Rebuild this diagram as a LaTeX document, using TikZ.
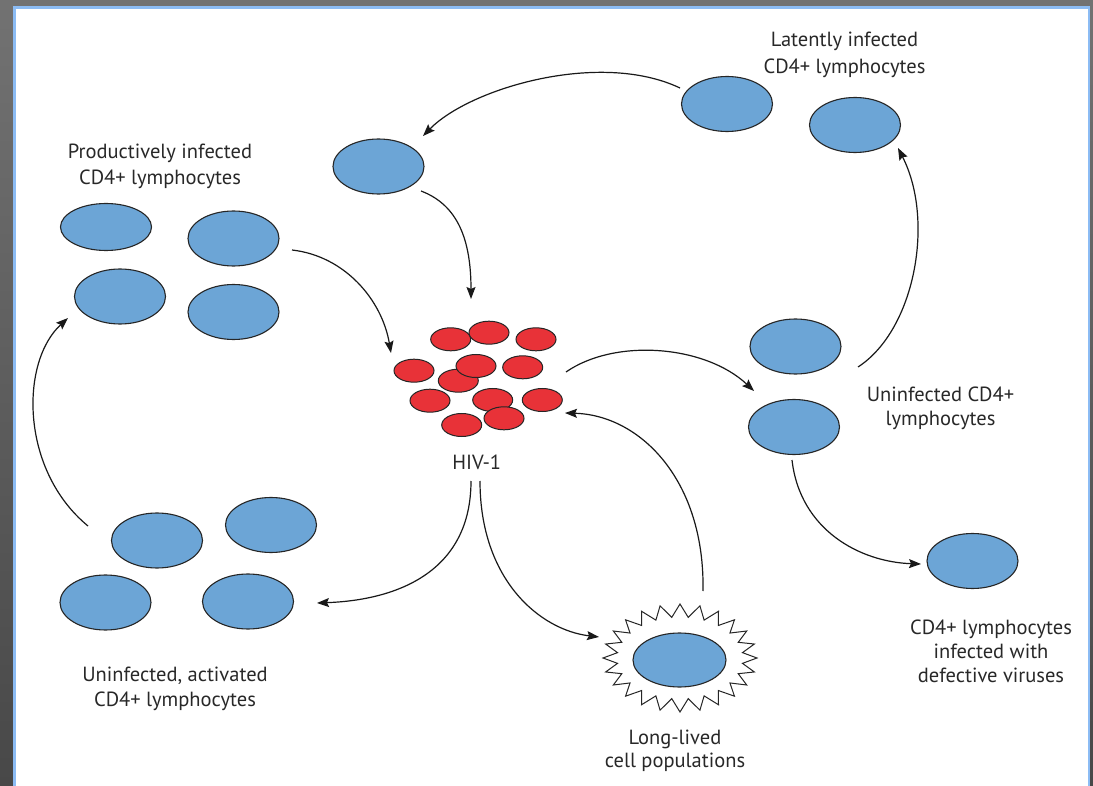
\documentclass[tikz,border=0pt]{standalone}
\usepackage{fontspec}
\setmainfont{PT Sans}
\usetikzlibrary{arrows.meta,shapes.geometric}
\definecolor{cellblue}{RGB}{108,165,214}
\definecolor{virred}{RGB}{232,50,56}
\definecolor{framebl}{RGB}{140,188,244}
\definecolor{txt}{RGB}{40,40,40}
\definecolor{bgtop}{RGB}{114,114,114}
\definecolor{bgbot}{RGB}{72,72,72}
\begin{document}
\begin{tikzpicture}[x=1pt,y=-1pt,
  cell/.style={ellipse,draw=black!85,line width=1.1pt,fill=cellblue,inner sep=0pt,minimum width=91pt,minimum height=55pt},
  virus/.style={ellipse,draw=black!85,line width=1pt,fill=virred,inner sep=0pt,minimum width=40pt,minimum height=23pt},
  flow/.style={line width=1.2pt,draw=black!90,-{Stealth[length=12pt,width=9pt,inset=2pt]}},
  lab/.style={align=center,text=txt,inner sep=0pt,font=\fontsize{20.5}{24}\selectfont}]
\useasboundingbox (0,0) rectangle (1093,786);
% background
\shade[top color=bgtop,bottom color=bgbot] (0,0) rectangle (1093,786);
\filldraw[fill=white,draw=framebl,line width=2.5pt] (14.5,7.5) rectangle (1089,800);

% latently infected
\node[cell] (e13) at (727,104) {};
\node[cell] (e14) at (855,125) {};
\node[lab,font=\fontsize{20.5}{27.5}\selectfont] (tlat) at (844.5,55) {Latently infected\\CD4+ lymphocytes};
\node[cell] (e12) at (378.5,166.5) {};

% productively infected
\node[cell,minimum height=47pt] (e1) at (106,227) {};
\node[cell] (e2) at (233.5,238.5) {};
\node[cell] (e3) at (120,296.5) {};
\node[cell] (e4) at (233.5,312) {};
\node[lab,font=\fontsize{20.5}{26}\selectfont] (tprod) at (160,166) {Productively infected\\CD4+ lymphocytes};

% uninfected CD4+
\node[cell] (e9) at (795.5,346.5) {};
\node[cell] (e10) at (794,427) {};
\node[lab] (tunin) at (940.5,408.5) {Uninfected CD4+\\lymphocytes};

% defective
\node[cell] (e11) at (972.5,561) {};
\node[lab] (tdef) at (991,651.5) {CD4+ lymphocytes\\infected with\\defective viruses};

% uninfected activated
\node[cell] (e5) at (157,540.5) {};
\node[cell] (e6) at (271,525) {};
\node[cell] (e7) at (105.5,602.5) {};
\node[cell] (e8) at (248,601.5) {};
\node[lab,font=\fontsize{20.5}{25}\selectfont] (tact) at (175,689) {Uninfected, activated\\CD4+ lymphocytes};

% HIV-1 cluster
\node[virus] (v1) at (450.7,339.3) {};
\node[virus] (v2) at (489,332.7) {};
\node[virus] (v3) at (536,339.3) {};
\node[virus] (v4) at (414,370.7) {};
\node[virus] (v5) at (458.3,380.7) {};
\node[virus] (v6) at (476,366) {};
\node[virus] (v7) at (522.7,367.3) {};
\node[virus] (v8) at (430,400.7) {};
\node[virus] (v9) at (492.7,400) {};
\node[virus] (v11) at (542.3,400) {};
\node[virus] (v10) at (504,418.3) {};
\node[virus] (v12) at (461.7,425) {};
\node[lab] (thiv) at (476.7,462) {HIV-1};

% long-lived
\coordinate (sc) at (680,658);
\draw[line width=1pt,draw=black!85,fill=white,shift={(sc)}]
  plot[samples at={0,...,47},variable=\k] ({\k*7.5}:{77-14*mod(\k,2)} and {54-13*mod(\k,2)}) -- cycle;
\node[cell,minimum width=93pt,minimum height=54pt] (e15) at (679.5,660) {};
\node[lab,font=\fontsize{20.5}{23}\selectfont] (tlong) at (675,751) {Long-lived\\cell populations};

% connector endpoints
\coordinate (a1s) at (680,88);   \coordinate (a1e) at (423,136);
\coordinate (a2s) at (421,191);  \coordinate (a2e) at (471,299);
\coordinate (a3s) at (292,250);  \coordinate (a3e) at (391,353);
\coordinate (a4s) at (566,372);  \coordinate (a4e) at (754,391);
\coordinate (a5s) at (858,367);  \coordinate (a5e) at (898,148);
\coordinate (a6s) at (792,460);  \coordinate (a6e) at (921,564);
\coordinate (a7s) at (703,591);  \coordinate (a7e) at (565,413);
\coordinate (a8s) at (471,481);  \coordinate (a8e) at (317,603);
\coordinate (a9s) at (480,481);  \coordinate (a9e) at (599,637);
\coordinate (a10s) at (88,526);  \coordinate (a10e) at (68,318);

\draw[flow] (a1s) .. controls (600,50) and (470,88) .. (a1e);
\draw[flow] (a2s) .. controls (458,205) and (471,240) .. (a2e);
\draw[flow] (a3s) .. controls (345,256) and (382,300) .. (a3e);
\draw[flow] (a4s) .. controls (615,338) and (705,345) .. (a4e);
\draw[flow] (a5s) .. controls (915,330) and (935,220) .. (a5e);
\draw[flow] (a6s) .. controls (800,530) and (860,562) .. (a6e);
\draw[flow] (a7s) .. controls (705,480) and (640,415) .. (a7e);
\draw[flow] (a8s) .. controls (471,570) and (400,600) .. (a8e);
\draw[flow] (a9s) .. controls (480,580) and (540,630) .. (a9e);
\draw[flow] (a10s) .. controls (20,470) and (20,362) .. (a10e);
\end{tikzpicture}
\end{document}
